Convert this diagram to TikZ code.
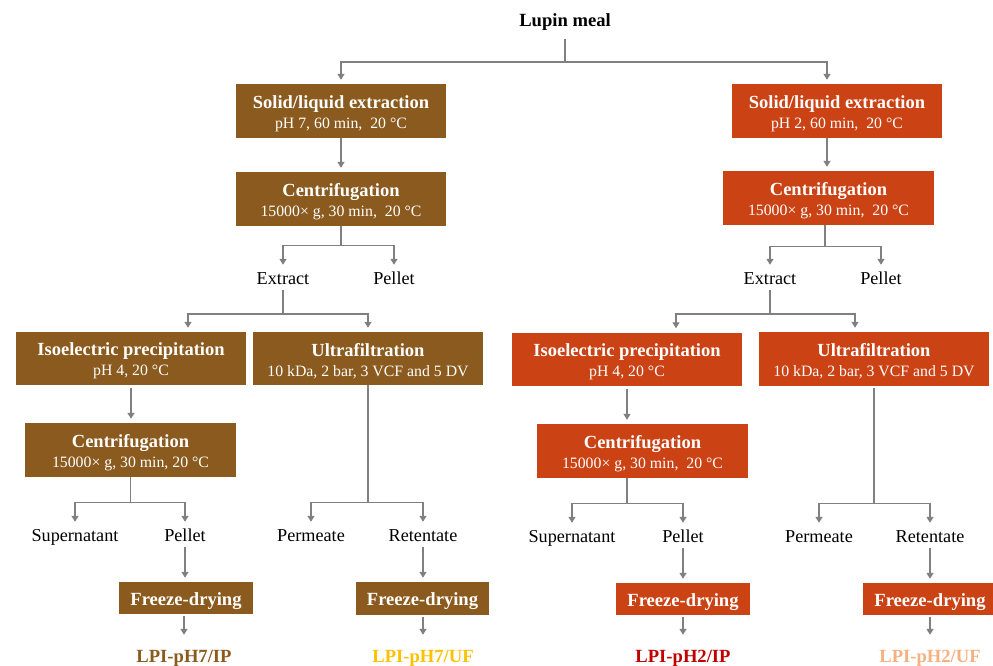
\documentclass[tikz,border=0pt]{standalone}
\usepackage{fontspec}
\setmainfont{Liberation Serif}
\usetikzlibrary{arrows.meta}
\definecolor{brn}{RGB}{139,90,30}
\definecolor{org}{RGB}{203,66,20}
\definecolor{gry}{RGB}{128,128,128}
\definecolor{cUFseven}{RGB}{255,192,0}
\definecolor{cIPtwo}{RGB}{192,0,0}
\definecolor{cUFtwo}{RGB}{244,177,131}
\newcommand{\boxtitle}[1]{{\bfseries\fontsize{18.5}{20}\selectfont\rule{0pt}{17.5pt}#1}}
\newcommand{\fdtext}{\rule{0pt}{19pt}Freeze-drying}
\begin{document}
\begin{tikzpicture}[x=1pt,y=-1pt,
  ln/.style={draw=gry,line width=1.3pt},
  arr/.style={ln,-{Triangle[width=7pt,length=6pt]},shorten >=4pt},
  box/.style={text=white,inner sep=0pt,align=center,font=\fontsize{15.8}{20}\selectfont},
  bxs/.style={box,fill=brn},
  bxt/.style={box,fill=org},
  big/.style={minimum width=210pt,minimum height=54pt},
  wide/.style={minimum width=230pt,minimum height=53pt},
  fd/.style={minimum width=134pt,minimum height=32pt,font=\bfseries\fontsize{18.6}{20}\selectfont},
  lab/.style={font=\fontsize{18.2}{20}\selectfont,text height=13pt,text depth=4pt,inner sep=2pt,anchor=base},
  res/.style={font=\bfseries\fontsize{18.6}{20}\selectfont,text height=13pt,text depth=4pt,inner sep=2pt,anchor=base}
]
\useasboundingbox (0,0) rectangle (993,666);

% top
\node[lab,font=\bfseries\fontsize{18.6}{20}\selectfont] (lupin) at (565,27) {Lupin meal};
\coordinate (j0) at (565,62);
\coordinate (aR) at (827,62);

% boxes
\node[bxs,big] (sleL) at (341,111) {\boxtitle{Solid/liquid extraction}\\pH 7, 60 min,\ \ 20 °C};
\node[bxt,big] (sleR) at (837,111) {\boxtitle{Solid/liquid extraction}\\pH 2, 60 min,\ \ 20 °C};
\node[bxs,big] (cenL) at (341,199) {\boxtitle{Centrifugation}\\15000× g, 30 min,\ \ 20 °C};
\node[bxt,big,minimum width=211pt] (cenR) at (828.5,198) {\boxtitle{Centrifugation}\\15000× g, 30 min,\ \ 20 °C};

\node[bxs,wide] (isoL) at (131,358.5) {\boxtitle{Isoelectric precipitation}\\pH 4, 20 °C};
\node[bxs,wide] (ufL) at (368,358.5) {\boxtitle{Ultrafiltration}\\10 kDa, 2 bar, 3 VCF and 5 DV};
\node[bxt,wide] (isoR) at (627,359) {\boxtitle{Isoelectric precipitation}\\pH 4, 20 °C};
\node[bxt,wide,minimum height=54pt] (ufR) at (874,359) {\boxtitle{Ultrafiltration}\\10 kDa, 2 bar, 3 VCF and 5 DV};

\node[bxs,big,minimum width=211pt] (cenLb) at (130.5,450) {\boxtitle{Centrifugation}\\15000× g, 30 min, 20 °C};
\node[bxt,big,minimum width=211pt] (cenRb) at (642.5,451) {\boxtitle{Centrifugation}\\15000× g, 30 min,\ \ 20 °C};

\node[bxs,fd] (fdL) at (186,598) {\fdtext};
\node[bxs,fd,minimum width=133pt,minimum height=33pt] (fdLb) at (422.5,598.5) {\fdtext};
\node[bxt,fd] (fdR) at (683,599) {\fdtext};
\node[bxt,fd] (fdRb) at (930,599) {\fdtext};

% labels
\node[lab] (extL) at (283,284) {Extract};
\node[lab] (pelL) at (394,284) {Pellet};
\node[lab] (extR) at (770,284) {Extract};
\node[lab] (pelR) at (881,284) {Pellet};

\node[lab] (supL) at (75,541) {Supernatant};
\node[lab] (pelLb) at (185,541) {Pellet};
\node[lab] (perL) at (311,541) {Permeate};
\node[lab] (retL) at (423,541) {Retentate};
\node[lab] (supR) at (572,542) {Supernatant};
\node[lab] (pelRb) at (683,542) {Pellet};
\node[lab] (perR) at (819,542) {Permeate};
\node[lab] (retR) at (930,542) {Retentate};

\node[res,text=brn] (resIL) at (184,662) {LPI-pH7/IP};
\node[res,text=cUFseven] (resUL) at (423,662) {LPI-pH7/UF};
\node[res,text=cIPtwo] (resIR) at (683,662) {LPI-pH2/IP};
\node[res,text=cUFtwo] (resUR) at (930,662) {LPI-pH2/UF};

% connectors top
\draw[ln,shorten <=6pt] (lupin.south) -- (j0);
\draw[arr] (j0) -| (sleL.north);
\draw[arr] (j0) -| (sleR.north -| aR);

\draw[arr] (sleL.south) -- (cenL.north);
\draw[arr] (sleR.south -| aR) -- (cenR.north -| aR);

\draw[arr] (cenL.south) -- ++(0,19) -| (extL.north);
\draw[arr] (cenL.south) -- ++(0,19) -| (pelL.north);
\draw[arr] (cenR.south -| 825,0) -- ++(0,21) -| (extR.north);
\draw[arr] (cenR.south -| 825,0) -- ++(0,21) -| (pelR.north);

% extract -> iso / uf
\coordinate (aIL) at (188,314);
\coordinate (aIR) at (676,314);
\coordinate (aUR) at (855,314);
\draw[arr] (extL.south) |- (aIL) -- (aIL |- isoL.north);
\draw[arr] (extL.south) |- (ufL.north |- aIL) -- (ufL.north);
\draw[arr] (extR.south) |- (aIR) -- (aIR |- isoR.north);
\draw[arr] (extR.south) |- (aUR) -- (aUR |- ufR.north);

% left IP branch
\draw[arr,shorten <=3pt] (isoL.south) -- (isoL.south |- cenLb.north);
\draw[arr] (cenLb.south) -- ++(0,25) -| (supL.north);
\draw[arr] (cenLb.south) -- ++(0,25) -| (pelLb.north);
\draw[arr] (pelLb.south) -- (pelLb.south |- fdL.north);
\draw[arr,shorten <=2pt,shorten >=12pt] (fdL.south -| resIL) -- (resIL.north);

% left UF branch
\draw[arr] (ufL.south) -- ++(0,117) -| (perL.north);
\draw[arr] (ufL.south) -- ++(0,117) -| (retL.north);
\draw[arr] (retL.south) -- (retL.south |- fdLb.north);
\draw[arr,shorten <=2pt,shorten >=12pt] (fdLb.south -| resUL) -- (resUL.north);

% right IP branch
\draw[arr,shorten <=3pt] (isoR.south) -- (isoR.south |- cenRb.north);
\draw[arr] (isoR.south |- cenRb.south) -- ++(0,25) -| (supR.north);
\draw[arr] (isoR.south |- cenRb.south) -- ++(0,25) -| (pelRb.north);
\draw[arr] (pelRb.south) -- (pelRb.south |- fdR.north);
\draw[arr,shorten <=2pt,shorten >=12pt] (fdR.south -| resIR) -- (resIR.north);

% right UF branch
\draw[arr,shorten <=2pt] (ufR.south) -- ++(0,117) -| (perR.north);
\draw[arr,shorten <=2pt] (ufR.south) -- ++(0,117) -| (retR.north);
\draw[arr] (retR.south) -- (retR.south |- fdRb.north);
\draw[arr,shorten <=2pt,shorten >=12pt] (fdRb.south -| resUR) -- (resUR.north);
\end{tikzpicture}
\end{document}
